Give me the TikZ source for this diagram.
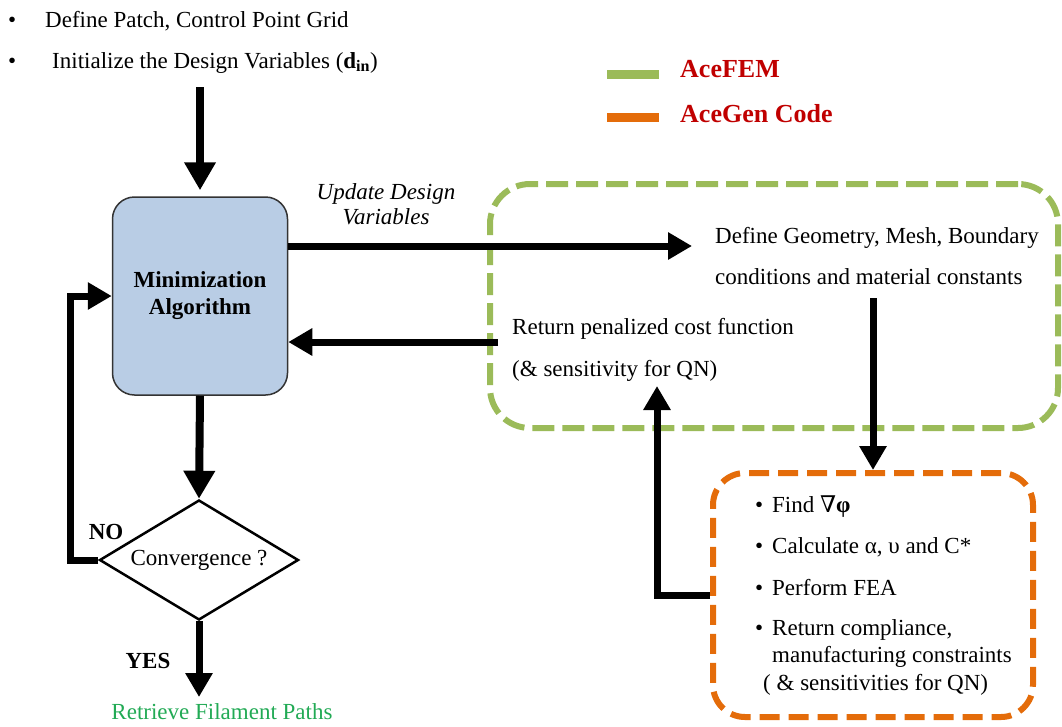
\documentclass[tikz,border=0pt]{standalone}
\usepackage{fontspec}
\setmainfont{Liberation Serif}
\newfontfamily\dejavuserif{DejaVu Serif}
\usetikzlibrary{arrows.meta,shapes.geometric}
\definecolor{boxblue}{HTML}{B9CDE5}
\definecolor{femgreen}{HTML}{9BBB59}
\definecolor{genorange}{HTML}{E46C0A}
\definecolor{legred}{HTML}{C00000}
\definecolor{retgreen}{HTML}{22AA55}
\newcommand\txtsize{\fontsize{23}{27}\selectfont}
\tikzset{
  txt/.style={font=\txtsize, inner sep=0pt, anchor=base west},
  ctxt/.style={font=\txtsize, inner sep=0pt, anchor=base},
  arr/.style={draw=black, line width=7pt, -{Triangle[length=24pt,width=26pt]}},
  bigarr/.style={draw=black, line width=8pt, -{Triangle[length=28pt,width=30pt]}},
  legtxt/.style={font=\fontsize{26}{30}\selectfont\bfseries, text=legred, inner sep=0pt, anchor=base west},
  dashbox/.style={shape=rectangle, line width=6pt, fill=none},
}
\begin{document}
\begin{tikzpicture}[x=1pt,y=-1pt]
\useasboundingbox (0,0) rectangle (1062,726);

% top bullets
\node[txt] (b1) at (8,27) {•};
\node[txt] (t1) at (45,27) {Define Patch, Control Point Grid};
\node[txt] (b2) at (8,68) {•};
\node[txt] (t2) at (52,68) {Initialize the Design Variables (\textbf{d}\textsubscript{\textbf{in}})};

% legend
\draw[femgreen, line width=9pt] (607,74) -- (659,74);
\draw[genorange, line width=9pt] (607,117) -- (659,117);
\node[legtxt] (lfem) at (680,77) {AceFEM};
\node[legtxt] (lgen) at (680,122) {AceGen Code};

% minimization box
\node[draw=black!80, line width=1.5pt, fill=boxblue, rounded corners=22pt,
      minimum width=175pt, minimum height=198pt, inner sep=0pt,
      font=\fontsize{23}{27}\selectfont\bfseries, align=center] (mini) at (200,296)
      {Minimization\\Algorithm};

% AceFEM box
\node[dashbox, draw=femgreen, dash pattern=on 22pt off 8pt, rounded corners=40pt,
      minimum width=568pt, minimum height=244pt] (fem) at (774,306) {};
% AceGen box
\node[dashbox, draw=genorange, dash pattern=on 20pt off 9pt, rounded corners=32pt,
      minimum width=320pt, minimum height=244pt] (gen) at (873,595) {};

% texts in AceFEM box
\node[txt] (geo1) at (715,243) {Define Geometry, Mesh, Boundary};
\node[txt] (geo2) at (715,284) {conditions and material constants};
\node[txt] (ret1) at (512,334) {Return penalized cost function};
\node[txt] (ret2) at (512,376) {(\& sensitivity for QN)};

% texts in AceGen box
\node[txt] (gb1) at (755,512) {•};
\node[txt] (g1) at (772,512) {Find {\dejavuserif ∇}\textbf{φ}};
\node[txt] (gb2) at (755,553) {•};
\node[txt] (g2) at (772,553) {Calculate α, υ and C*};
\node[txt] (gb3) at (755,595) {•};
\node[txt] (g3) at (772,595) {Perform FEA};
\node[txt] (gb4) at (755,635) {•};
\node[txt] (g4) at (772,635) {Return compliance,};
\node[txt] (g5) at (772,662) {manufacturing constraints};
\node[txt] (g6) at (763,690) {( \& sensitivities for QN)};

% update label
\node[ctxt, font=\txtsize\itshape] (up1) at (386,199) {Update Design};
\node[ctxt, font=\txtsize\itshape] (up2) at (386,224) {Variables};

% diamond
\node[shape=diamond, aspect=1.66, draw=black, line width=2.5pt, inner sep=0pt,
      minimum width=199pt, minimum height=120pt, font=\txtsize] (conv) at (199,560)
      {Convergence ?};

\node[font=\txtsize\bfseries, inner sep=0pt] (no) at (106,532) {NO};
\node[font=\txtsize\bfseries, inner sep=0pt] (yes) at (148,661) {YES};
\node[font=\txtsize, text=retgreen, inner sep=0pt] (retr) at (222,712) {Retrieve Filament Paths};

% coordinates
\coordinate (init) at (200,87);
\coordinate (geoin) at (692,246);
\coordinate (retout) at (498,342);
\coordinate (conststart) at (873,298);
\coordinate (qnin) at (657,386);
\coordinate (nocorner) at (70,560);
\coordinate (yesend) at (199,697);

% connectors
\draw[bigarr] (init) -- ([yshift=6pt]mini.north);
\draw[arr] ([yshift=50pt]mini.east) -- (geoin);
\draw[arr] (retout) -- ([yshift=-46pt]mini.east);
\draw[arr] (conststart) -- (gen.north);
\draw[arr] (gen.west) -| (qnin);
\draw[bigarr] (mini.south) -- (conv.north);
\draw[arr] (conv.west) -- (nocorner) |- (mini.west);
\draw[arr] (conv.south) -- (yesend);
\end{tikzpicture}
\end{document}
